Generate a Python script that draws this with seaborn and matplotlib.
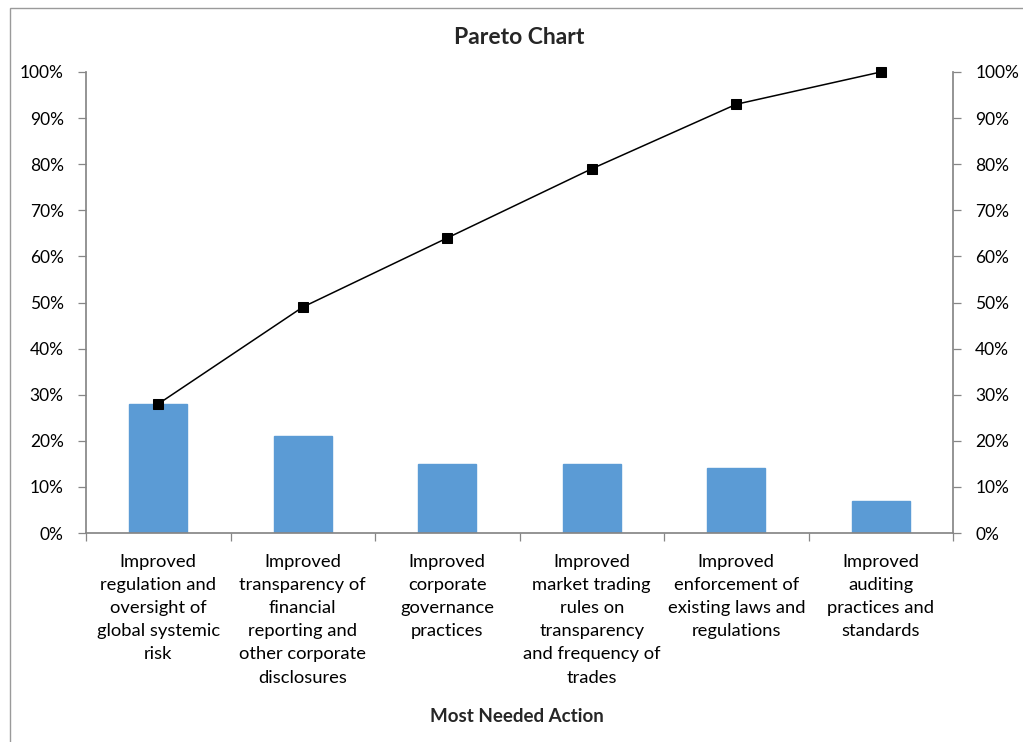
import matplotlib
matplotlib.use("Agg")
import matplotlib.pyplot as plt
import matplotlib.patches as mpatches
from matplotlib.ticker import PercentFormatter, FixedLocator
import seaborn as sns
import pandas as pd
import numpy as np

# Survey responses: share choosing each action
categories = [
    "Improved\nregulation and\noversight of\nglobal systemic\nrisk",
    "Improved\ntransparency of\nfinancial\nreporting and\nother corporate\ndisclosures",
    "Improved\ncorporate\ngovernance\npractices",
    "Improved\nmarket trading\nrules on\ntransparency\nand frequency of\ntrades",
    "Improved\nenforcement of\nexisting laws and\nregulations",
    "Improved\nauditing\npractices and\nstandards",
]
shares = [28, 21, 15, 15, 14, 7]
cumulative = [28, 49, 64, 79, 93, 100]

sns.set_theme(style="white")
plt.rcParams["font.family"] = ["Lato", "DejaVu Sans"]

df = pd.DataFrame({"action": categories, "share": shares, "cum": cumulative})

W, H = 1023, 742
fig = plt.figure(figsize=(W / 100, H / 100), dpi=100)
fig.patch.set_facecolor("white")

# outer chart-area frame
fig.add_artist(mpatches.Rectangle((10 / W, -0.01), 1.02, 1 - 8 / H + 0.01,
                                  transform=fig.transFigure, fill=False,
                                  edgecolor="#9a9a9a", linewidth=1.0))

ax = fig.add_axes([86 / W, 1 - 533 / H, (953 - 86) / W, (533 - 72) / H])
sns.barplot(data=df, x="action", y="share", color="#5B9BD5", width=0.4,
            saturation=1, ax=ax, edgecolor="#5B9BD5")
ax.set_ylim(0, 100)
ax.set_xlim(-0.5, len(categories) - 0.5)

ax2 = ax.twinx()
sns.lineplot(x=np.arange(len(categories)), y=df["cum"], ax=ax2, color="black",
             linewidth=1.1, marker="s", markersize=6.5, markeredgecolor="black")
for ln in ax2.lines:
    ln.set_clip_on(False)
ax2.set_ylim(0, 100)

spine_c = "#868686"
ticks = np.arange(0, 101, 10)
for a in (ax, ax2):
    for s in a.spines.values():
        s.set_visible(False)
    a.set_yticks(ticks)
    a.yaxis.set_major_formatter(PercentFormatter(decimals=0))
    a.set_ylabel("")
    a.grid(False)
    a.tick_params(axis="y", length=6, width=0.9, color=spine_c,
                  labelsize=12.5, labelcolor="black", pad=10)

ax.spines["left"].set_visible(True)
ax.spines["bottom"].set_visible(True)
ax.spines["left"].set_color(spine_c)
ax.spines["bottom"].set_color(spine_c)
ax2.spines["right"].set_visible(True)
ax2.spines["right"].set_color(spine_c)
ax.tick_params(axis="y", left=True, direction="out")
ax2.tick_params(axis="y", right=True, direction="out")

# category boundaries as tick marks, labels centred beneath bars
ax.set_xticks(np.arange(len(categories)))
ax.set_xticklabels(categories)
ax.xaxis.set_minor_locator(FixedLocator(np.arange(-0.5, len(categories), 1.0)))
ax.tick_params(axis="x", which="minor", bottom=True, length=6, width=0.9,
               color=spine_c, direction="out")
ax.tick_params(axis="x", which="major", bottom=False, length=0, pad=15,
               labelsize=13.2, labelcolor="black")
for lbl in ax.get_xticklabels():
    lbl.set_linespacing(1.55)
    lbl.set_horizontalalignment("center")
    lbl.set_verticalalignment("top")
ax.set_xlim(-0.5, len(categories) - 0.5)

ax.set_xlabel("")
fig.text(519 / W, 1 - 37 / H, "Pareto Chart", ha="center", va="center",
         fontsize=16.5, fontweight="bold")
fig.text(517 / W, 1 - 717 / H, "Most Needed Action", ha="center", va="center",
         fontsize=13.5, fontweight="bold")

fig.savefig("out.png", dpi=100)
